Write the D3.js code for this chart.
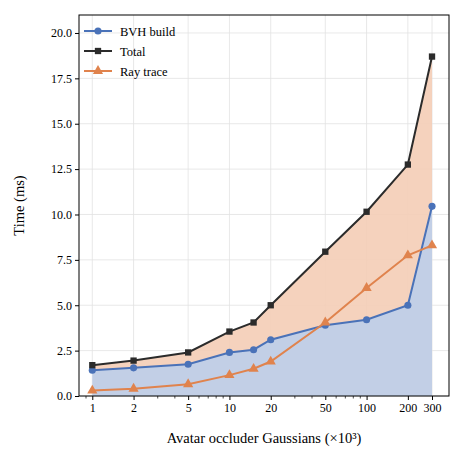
<!DOCTYPE html><html><head><script src="https://cdn.jsdelivr.net/npm/d3@7"></script>
<style>body{margin:0;background:#fff}text{font-family:"Liberation Serif","Times New Roman",serif}</style></head><body><svg id="c" width="465" height="463"></svg><script>
const xs=[1,2,5,10,15,20,50,100,200,300];
const bvh=[1.42,1.55,1.75,2.4,2.55,3.1,3.9,4.2,5.0,10.45];
const total=[1.7,1.95,2.4,3.55,4.05,5.0,7.95,10.15,12.75,18.7];
const ray=[0.3,0.4,0.65,1.15,1.5,1.9,4.05,5.95,7.75,8.3];
const xTicks=[1,2,5,10,20,50,100,200,300];
const yTicks=[0,2.5,5,7.5,10,12.5,15,17.5,20];
const L=79,R=449,T=15,B=396;
const svg=d3.select("#c");
const x=d3.scaleLog().domain([0.80,399]).range([L,R]);
const y=d3.scaleLinear().domain([0,20.99]).range([B,T]);
svg.append("g").selectAll("line").data(xTicks).join("line").attr("x1",d=>x(d)).attr("x2",d=>x(d)).attr("y1",T).attr("y2",B).attr("stroke","#e2e2e2").attr("stroke-width",0.8);
svg.append("g").selectAll("line").data(yTicks).join("line").attr("x1",L).attr("x2",R).attr("y1",d=>y(d)).attr("y2",d=>y(d)).attr("stroke","#e2e2e2").attr("stroke-width",0.8);
const idx=xs.map((_,i)=>i);
svg.append("path").datum(idx).attr("fill","#f4cdb6").attr("opacity",0.9)
 .attr("d",d3.area().x(i=>x(xs[i])).y0(i=>y(bvh[i])).y1(i=>y(total[i])));
svg.append("path").datum(idx).attr("fill","#c2cfe6")
 .attr("d",d3.area().x(i=>x(xs[i])).y0(y(0)).y1(i=>y(bvh[i])));
const series=[{n:"BVH build",v:bvh,c:"#4a72b8",s:d3.symbolCircle},{n:"Total",v:total,c:"#2b2b2b",s:d3.symbolSquare},{n:"Ray trace",v:ray,c:"#e0834d",s:d3.symbolTriangle}];
series.forEach(se=>{
 svg.append("path").datum(idx).attr("fill","none").attr("stroke",se.c).attr("stroke-width",2)
  .attr("d",d3.line().x(i=>x(xs[i])).y(i=>y(se.v[i])));
 svg.append("g").selectAll("path").data(idx).join("path").attr("transform",i=>`translate(${x(xs[i])},${y(se.v[i])})`)
  .attr("d",d3.symbol(se.s,se.s===d3.symbolTriangle?45:40)).attr("fill",se.c);
});
const gx=svg.append("g").attr("transform",`translate(0,${B})`).call(d3.axisBottom(x).tickValues(xTicks).tickFormat(d3.format("d")).tickSizeOuter(0).tickSize(4));
const minor=[0.9,3,4,6,7,8,9,30,40,60,70,80,90];
gx.selectAll(".mn").data(minor).join("line").attr("x1",d=>x(d)).attr("x2",d=>x(d)).attr("y2",2.5).attr("stroke","#000").attr("stroke-width",0.7);
const gy=svg.append("g").attr("transform",`translate(${L},0)`).call(d3.axisLeft(y).tickValues(yTicks).tickFormat(d3.format(".1f")).tickSizeOuter(0).tickSize(4));
[gx,gy].forEach(g=>{g.selectAll("text").attr("font-size",12).attr("fill","#000").style("font-family","Liberation Serif");g.select(".domain").remove();});
svg.append("rect").attr("x",L).attr("y",T).attr("width",R-L).attr("height",B-T).attr("fill","none").attr("stroke","#000").attr("stroke-width",1);
svg.append("text").attr("x",(L+R)/2).attr("y",443).attr("text-anchor","middle").attr("font-size",14.5).text("Avatar occluder Gaussians (×10³)");
svg.append("text").attr("transform",`translate(24,${(T+B)/2}) rotate(-90)`).attr("text-anchor","middle").attr("font-size",14.5).text("Time (ms)");
const lg=svg.append("g").attr("transform","translate(84,31)");
series.forEach((se,i)=>{
 const g=lg.append("g").attr("transform",`translate(0,${i*20})`);
 g.append("line").attr("x1",0).attr("x2",28).attr("stroke",se.c).attr("stroke-width",2);
 g.append("path").attr("transform","translate(14,0)").attr("d",d3.symbol(se.s,se.s===d3.symbolTriangle?45:40)).attr("fill",se.c);
 g.append("text").attr("x",36).attr("y",4.5).attr("font-size",12.5).text(se.n);
});
</script></body></html>
